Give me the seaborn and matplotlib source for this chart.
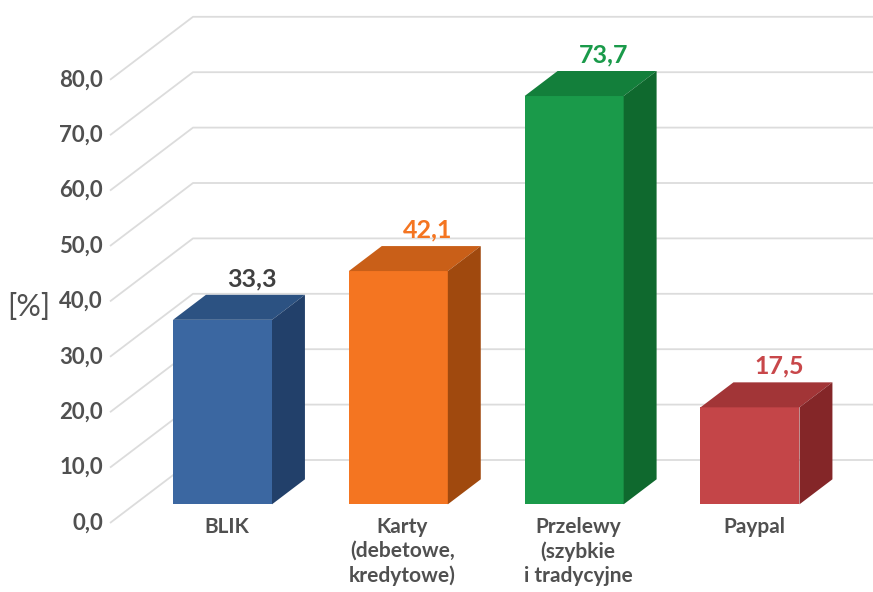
import matplotlib
matplotlib.use("Agg")
import matplotlib.pyplot as plt
from matplotlib.patches import Polygon
import seaborn as sns

categories = ["BLIK", "Karty\n(debetowe,\nkredytowe)", "Przelewy\n(szybkie\ni tradycyjne", "Paypal"]
values = [33.3, 42.1, 73.7, 17.5]
value_labels = ["33,3", "42,1", "73,7", "17,5"]
tick_values = [0, 10, 20, 30, 40, 50, 60, 70, 80]
tick_labels = ["0,0", "10,0", "20,0", "30,0", "40,0", "50,0", "60,0", "70,0", "80,0"]

front_colors = ["#3B67A1", "#F47521", "#1A9A4A", "#C44548"]
top_colors = ["#2C5282", "#C95F18", "#137F3B", "#A23537"]
side_colors = ["#22406A", "#A0490E", "#0F692E", "#842628"]
label_colors = ["#404040", "#F47521", "#1A9A4A", "#C8474A"]
grey = "#505050"

sns.set_theme(style="white")
plt.rcParams["font.family"] = ["Lato", "DejaVu Sans"]

W, H = 873, 592
fig = plt.figure(figsize=(W / 100, H / 100), dpi=100)
ax = fig.add_axes([0, 0, 1, 1])

# pixel geometry of the reference
px_cat = 175.83      # pixels per category step
px_unit = 5.54       # pixels per value unit
x0_px = 222.5        # pixel x of first category centre
y0_px = 504.3        # pixel y of value 0 on the bar front plane
bar_w = 99 / px_cat

# oblique depth vector (full floor depth) in data units
Dx, Dy = 83 / px_cat, 63 / px_unit
f_front = 18.7 / 63  # floor front edge in front of bar plane
f_bar = 25 / 63      # bar depth fraction
bx, by = f_bar * Dx, f_bar * Dy

sns.barplot(x=list(range(len(values))), y=values, hue=list(range(len(values))),
            palette=front_colors, width=bar_w, saturation=1, legend=False,
            ax=ax, zorder=3, linewidth=0)

ax.set_xlim(-x0_px / px_cat, (W - x0_px) / px_cat)
ax.set_ylim(-(H - y0_px) / px_unit, y0_px / px_unit)
ax.axis("off")

# walls: grid lines
xf = (110 - x0_px) / px_cat
xr = (W - x0_px) / px_cat
for v, lab in zip(tick_values, tick_labels):
    yf = v - f_front * Dy
    ax.plot([xf, xf + Dx, xr], [yf, yf + Dy, yf + Dy], color="#DCDCDC",
            lw=1.3, zorder=1, solid_capstyle="butt")
    ax.text(xf - 7 / px_cat, yf, lab, ha="right", va="center", fontsize=16,
            color=grey, fontweight="bold")

ax.text((29 - x0_px) / px_cat, (y0_px - 307) / px_unit, "[%]", ha="center",
        va="center", fontsize=22, color=grey)

# 3D faces and labels
for i, v in enumerate(values):
    xl, xr_b = i - bar_w / 2, i + bar_w / 2
    top = Polygon([(xl, v), (xr_b, v), (xr_b + bx, v + by), (xl + bx, v + by)],
                  closed=True, facecolor=top_colors[i], edgecolor="none", zorder=3)
    side = Polygon([(xr_b, 0), (xr_b, v), (xr_b + bx, v + by), (xr_b + bx, by)],
                   closed=True, facecolor=side_colors[i], edgecolor="none", zorder=3)
    ax.add_patch(top)
    ax.add_patch(side)
    ax.text(i + 29 / px_cat, v + by + 16 / px_unit, value_labels[i], ha="center",
            va="center", fontsize=18, color=label_colors[i], fontweight="bold")
    ax.text(i + 4 / px_cat, -(517 - y0_px) / px_unit, categories[i], ha="center",
            va="top", fontsize=15, color=grey, fontweight="bold", linespacing=1.25)

fig.savefig("out.png", dpi=100)
